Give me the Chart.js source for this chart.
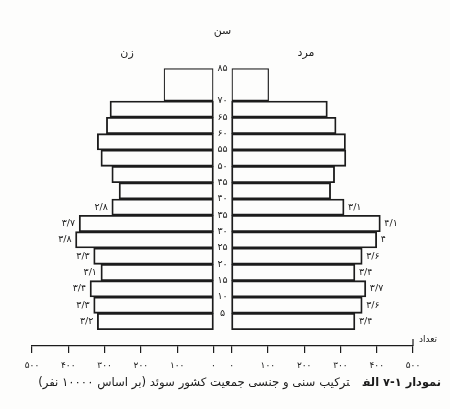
<!DOCTYPE html>
<html lang="fa">
<head>
<meta charset="utf-8">
<title>ترکیب سنی و جنسی جمعیت کشور سوئد</title>
<script src="https://cdn.jsdelivr.net/npm/chart.js@4.4.1/dist/chart.umd.min.js"></script>
<style>
  html, body { margin: 0; padding: 0; background: #fdfdfc; }
  #wrap { position: relative; width: 450px; height: 409px; overflow: hidden; }
  #pyramid { display: block; }
  #caption {
    position: absolute; right: 9px; top: 375px;
    direction: rtl; white-space: nowrap;
    font-family: "DejaVu Sans", sans-serif; font-size: 11.7px; color: #1b1b1b;
  }
  #caption b { margin-left: 13px; font-size: 11.4px; }
</style>
</head>
<body>
<div id="wrap">
  <canvas id="pyramid" width="450" height="409"></canvas>
  <div id="caption"><b>نمودار ۱-۷ الف</b>ترکیب سنی و جنسی جمعیت کشور سوئد (بر اساس ۱۰۰۰۰ نفر)</div>
</div>

<script>
// Sweden, per 10000 people. Rows are 5-year age bands, youngest first.
const ageGroups = ['0-5', '5-10', '10-15', '15-20', '20-25', '25-30', '30-35',
                   '35-40', '40-45', '45-50', '50-55', '55-60', '60-65', '65-70'];
const femaleValues = [320, 330, 340, 310, 330, 380, 370, 280, 260, 280, 310, 320, 295, 285];
const maleValues   = [340, 360, 370, 340, 360, 400, 410, 310, 273, 284, 315, 314, 288, 264];
// 70-85 band, drawn two rows tall
const femaleOld = 137;
const maleOld = 103;

// percentages written next to the first eight bars
const femaleLabels = ['۳/۲', '۳/۳', '۳/۴', '۳/۱', '۳/۳', '۳/۸', '۳/۷', '۲/۸'];
const maleLabels   = ['۳/۴', '۳/۶', '۳/۷', '۳/۴', '۳/۶', '۴', '۴/۱', '۳/۱'];

// age ticks sit on band boundaries (row units), count ticks on both halves
const ageTickRows   = [1, 2, 3, 4, 5, 6, 7, 8, 9, 10, 11, 12, 13, 14, 16];
const ageTickLabels = ['۵', '۱۰', '۱۵', '۲۰', '۲۵', '۳۰', '۳۵', '۴۰', '۴۵', '۵۰', '۵۵', '۶۰', '۶۵', '۷۰', '۸۵'];
const countTicks = [500, 400, 300, 200, 100, 0];
const countTickLabels = ['۵۰۰', '۴۰۰', '۳۰۰', '۲۰۰', '۱۰۰', '۰'];

const GAP = 25;          // half width of the age column, in count units
const INK = '#1c1c1c';
const FONT = '"DejaVu Sans", sans-serif';

const xTickValues = countTicks.map(v => -GAP - v).concat(countTicks.slice().reverse().map(v => GAP + v));
const xTickText = countTickLabels.concat(countTickLabels.slice().reverse());

const barStyle = {
    backgroundColor: 'rgba(255,255,255,0)',
    borderColor: INK,
    borderWidth: 1.2,
    borderSkipped: false,
    grouped: false,
    categoryPercentage: 1,
    barPercentage: 1
};

const pyramidText = {
    id: 'pyramidText',
    afterDraw(chart) {
        const { ctx, scales: { x, y } } = chart;
        const midX = x.getPixelForValue(0);
        ctx.save();
        ctx.fillStyle = INK;
        ctx.strokeStyle = INK;
        ctx.textBaseline = 'middle';

        // ages in the centre column
        ctx.font = '9.5px ' + FONT;
        ctx.textAlign = 'center';
        ageTickLabels.forEach((t, i) => ctx.fillText(t, midX, y.getPixelForValue(ageTickRows[i])));

        // bar end labels
        ctx.textAlign = 'right';
        femaleLabels.forEach((t, i) => {
            ctx.fillText(t, x.getPixelForValue(-GAP - femaleValues[i]) - 4, y.getPixelForValue(i + 0.5));
        });
        ctx.textAlign = 'left';
        maleLabels.forEach((t, i) => {
            ctx.fillText(t, x.getPixelForValue(GAP + maleValues[i]) + 4, y.getPixelForValue(i + 0.5));
        });

        // headings
        ctx.font = '11px ' + FONT;
        ctx.textAlign = 'center';
        ctx.fillText('سن', midX, y.top - 21);
        ctx.fillText('زن', x.getPixelForValue(-263), y.top + 1);
        ctx.fillText('مرد', x.getPixelForValue(230), y.top + 1);

        ctx.font = '9px ' + FONT;
        ctx.textAlign = 'left';
        ctx.fillText('تعداد', x.right + 6, x.top - 6);

        // small riser at the end of the count axis
        ctx.lineWidth = 1.2;
        ctx.beginPath();
        ctx.moveTo(x.right, x.top - 7);
        ctx.lineTo(x.right, x.top);
        ctx.stroke();
        ctx.restore();
    }
};

new Chart(document.getElementById('pyramid'), {
    type: 'bar',
    data: {
        datasets: [{
            label: 'زن',
            data: femaleValues.map((v, i) => ({ y: i + 0.5, x: [-GAP, -GAP - v] })),
            ...barStyle
        }, {
            label: 'مرد',
            data: maleValues.map((v, i) => ({ y: i + 0.5, x: [GAP, GAP + v] })),
            ...barStyle
        }, {
            label: '۷۰-۸۵',
            data: [{ y: 15, x: [-GAP, -GAP - femaleOld] }, { y: 15, x: [GAP, GAP + maleOld] }],
            ...barStyle,
            barPercentage: 2
        }]
    },
    options: {
        indexAxis: 'y',
        responsive: false,
        animation: false,
        layout: { padding: { top: 52, left: 32, right: 37, bottom: 33 } },
        plugins: {
            legend: { display: false },
            tooltip: { enabled: false }
        },
        scales: {
            y: {
                type: 'linear',
                min: 0,
                max: 16,
                display: false
            },
            x: {
                type: 'linear',
                min: -GAP - 500,
                max: GAP + 500,
                afterBuildTicks: scale => { scale.ticks = xTickValues.map(v => ({ value: v })); },
                afterFit: scale => { scale.height = 30; },
                ticks: {
                    autoSkip: false,
                    maxRotation: 0,
                    padding: 7,
                    color: INK,
                    font: { family: FONT, size: 9 },
                    callback: (value, index) => xTickText[index]
                },
                grid: { drawOnChartArea: false, drawTicks: true, tickLength: 7, color: INK, lineWidth: 1.2 },
                border: { display: true, color: INK, width: 1.3 }
            }
        }
    },
    plugins: [pyramidText]
});
</script>
</body>
</html>
